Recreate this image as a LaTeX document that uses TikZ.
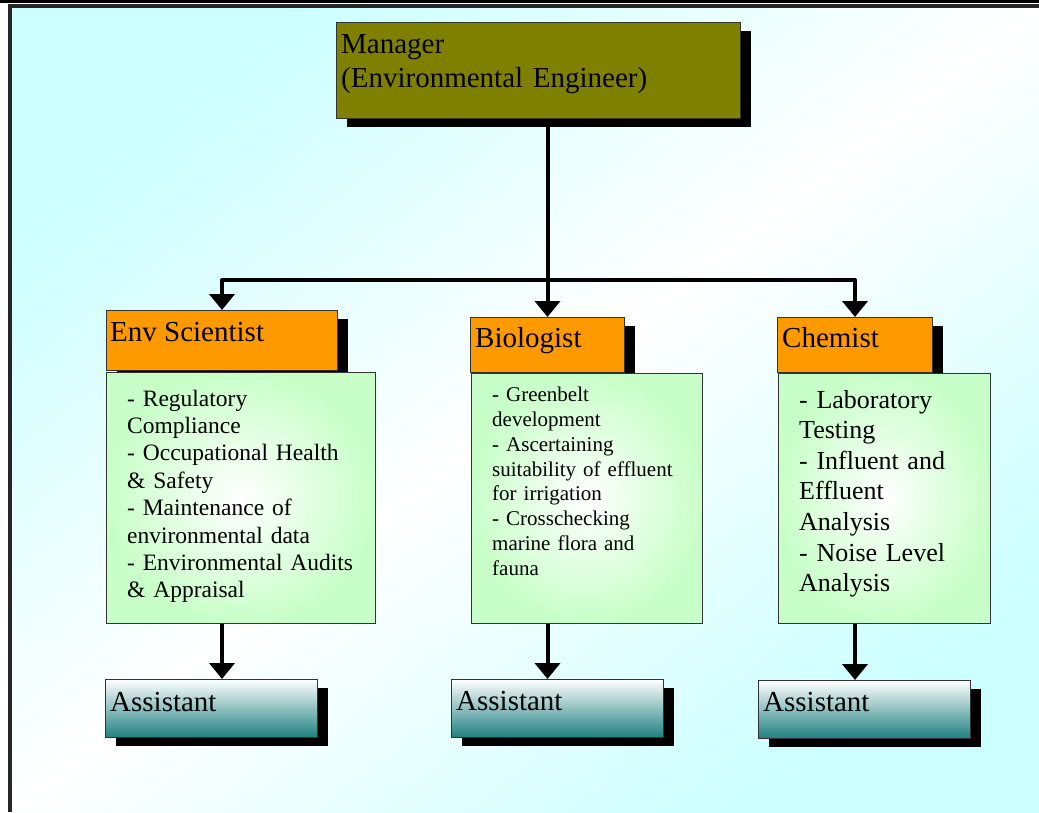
\documentclass[tikz,border=0pt]{standalone}
\usepackage{fontspec}
\setmainfont{Liberation Serif}
\usetikzlibrary{arrows.meta,shadows}
\definecolor{bgcyan}{HTML}{CCFFFF}
\definecolor{mgrolive}{HTML}{808000}
\definecolor{headorange}{HTML}{FF9900}
\definecolor{dutygreen}{HTML}{C8FFC8}
\definecolor{asstteal}{HTML}{1E8080}
\tikzset{
  box/.style={draw=black!80,line width=1pt,inner sep=0pt,anchor=north west},
  shadowed/.style={drop shadow={shadow xshift=10pt,shadow yshift=-8pt,fill=black,opacity=1}},
  boss/.style={box,shadowed,fill=mgrolive},
  head/.style={box,shadowed,fill=headorange},
  duty/.style={box,inner color=white,outer color=dutygreen},
  asst/.style={box,shadowed,top color=white,bottom color=asstteal},
  txt/.style={inner sep=0pt,anchor=base west,align=left},
  link/.style={line width=4pt,line join=round,-{Triangle[width=25pt,length=16pt]}}
}
\begin{document}
\begin{tikzpicture}[x=1pt,y=-1pt]
\useasboundingbox[fill=white] (0,0) rectangle (1039,812);
\shade[top color=bgcyan,bottom color=bgcyan,middle color=white,shading angle=38] (10,6) rectangle (1039,812);
\fill (0,0) rectangle (1039,3.3);
\draw[line width=3.5pt,black!85] (10.2,812) -- (10.2,5.8) -- (1039,5.8);

\node[boss,minimum width=404pt,minimum height=96pt] (mgr) at (336,22) {};
\node[head,minimum width=231pt,minimum height=60pt] (envhd) at (106,310) {};
\node[head,minimum width=154pt,minimum height=55pt] (biohd) at (470,317) {};
\node[head,minimum width=155pt,minimum height=55pt] (chemhd) at (777,317) {};
\node[duty,minimum width=269pt,minimum height=251pt] (envbody) at (106,372) {};
\node[duty,minimum width=231pt,minimum height=250pt] (biobody) at (471,373) {};
\node[duty,minimum width=212pt,minimum height=250pt] (chembody) at (778,373) {};
\node[asst,minimum width=212pt,minimum height=58pt] (envasst) at (105,679) {};
\node[asst,minimum width=212pt,minimum height=58pt] (bioasst) at (451,679) {};
\node[asst,minimum width=212pt,minimum height=58pt] (chemasst) at (758,680) {};

\node[txt,font=\fontsize{29}{34}\selectfont,text width=390pt] (mgrtxt) at (341,53) {Manager\\(Environmental Engineer)};
\node[txt,font=\fontsize{29}{34}\selectfont] (envtitle) at (110,341) {Env Scientist};
\node[txt,font=\fontsize{29}{34}\selectfont] (biotitle) at (475,347) {Biologist};
\node[txt,font=\fontsize{29}{34}\selectfont] (chemtitle) at (782,347) {Chemist};
\node[txt,font=\fontsize{23.5}{27.4}\selectfont,text width=240pt] (envlist) at (127,406) {- Regulatory\\Compliance\\- Occupational Health\\\& Safety\\- Maintenance of\\environmental data\\- Environmental Audits\\\& Appraisal};
\node[txt,font=\fontsize{21}{24.8}\selectfont,text width=205pt] (biolist) at (492,401.7) {- Greenbelt\\development\\- Ascertaining\\suitability of effluent\\for irrigation\\- Crosschecking\\marine flora and\\fauna};
\node[txt,font=\fontsize{26}{30.6}\selectfont,text width=185pt] (chemlist) at (799,408) {- Laboratory\\Testing\\- Influent and\\Effluent\\Analysis\\- Noise Level\\Analysis};
\node[txt,font=\fontsize{29}{34}\selectfont] (envasstxt) at (110,711) {Assistant};
\node[txt,font=\fontsize{29}{34}\selectfont] (bioasstxt) at (456,710) {Assistant};
\node[txt,font=\fontsize{29}{34}\selectfont] (chemasstxt) at (763,711) {Assistant};

\coordinate (bar) at (0,280);
\draw[link] (mgr.south -| biohd.north) -- (biohd.north);
\draw[link] (bar -| biohd.north) -| (envhd.north);
\draw[link] (bar -| biohd.north) -| (chemhd.north);
\draw[link] (envbody.south -| envhd.north) -- (envasst.north -| envhd.north);
\draw[link] (biobody.south -| biohd.north) -- (bioasst.north -| biohd.north);
\draw[link] (chembody.south -| chemhd.north) -- (chemasst.north -| chemhd.north);
\end{tikzpicture}
\end{document}
